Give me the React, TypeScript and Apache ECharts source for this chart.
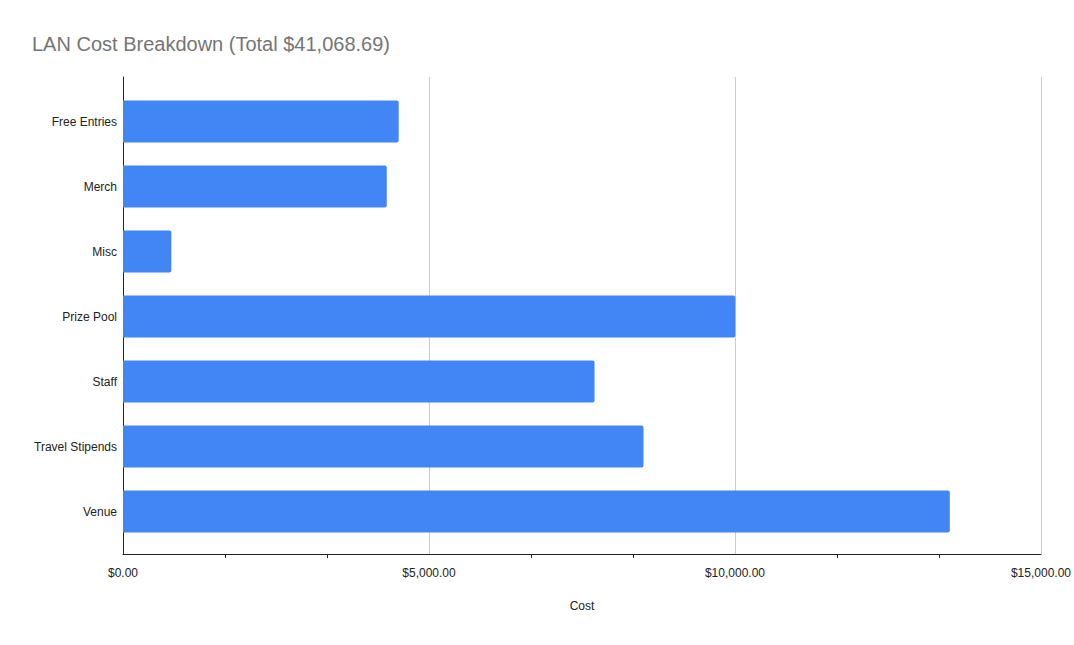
import React, { useEffect, useRef } from "react";
import * as echarts from "echarts";

const categories = ["Free Entries", "Merch", "Misc", "Prize Pool", "Staff", "Travel Stipends", "Venue"];
const costs = [4505, 4310, 790, 10005, 7705, 8505, 13510];
const titleText = "LAN Cost Breakdown (Total $41,068.69)";

const fmt = (v: number) =>
  "$" + v.toLocaleString("en-US", { minimumFractionDigits: 2, maximumFractionDigits: 2 });

export default function App() {
  const ref = useRef<HTMLDivElement>(null);
  useEffect(() => {
    const chart = echarts.init(ref.current!, null, { renderer: "svg" });
    chart.setOption({
      animation: false,
      backgroundColor: "#ffffff",
      title: {
        text: titleText,
        left: 27,
        top: 29,
        textStyle: { fontFamily: "Liberation Sans", fontSize: 20, fontWeight: "normal", color: "#757575" },
      },
      grid: [
        { left: 123, right: 33, top: 89, bottom: 101 },
        { left: 123, right: 33, top: 77, bottom: 91 },
      ],
      xAxis: [
        { gridIndex: 0, type: "value", min: 0, max: 15000, show: false },
        {
          gridIndex: 1,
          type: "value",
          min: 0,
          max: 15000,
          interval: 5000,
          axisLine: { show: true, lineStyle: { color: "#222", width: 1 } },
          axisTick: { show: false },
          minorTick: { show: true, splitNumber: 3, length: 4, lineStyle: { color: "#222" } },
          splitLine: { show: true, lineStyle: { color: "#cccccc" } },
          axisLabel: {
            formatter: (v: number) => fmt(v),
            margin: 13,
            fontFamily: "Liberation Sans",
            fontSize: 12,
            color: "#222",
          },
          name: "Cost",
          nameLocation: "middle",
          nameGap: 46,
          nameTextStyle: { fontFamily: "Liberation Sans", fontSize: 12, color: "#222" },
        },
      ],
      yAxis: [
        {
          gridIndex: 0,
          type: "category",
          data: categories,
          inverse: true,
          axisLine: { show: false },
          axisTick: { show: false },
          axisLabel: { margin: 6, fontFamily: "Liberation Sans", fontSize: 12, color: "#222" },
        },
        {
          gridIndex: 1,
          type: "value",
          min: 0,
          max: 1,
          axisLine: { show: true, lineStyle: { color: "#222", width: 1 } },
          axisTick: { show: false },
          axisLabel: { show: false },
          splitLine: { show: false },
        },
      ],
      series: [
        {
          type: "bar",
          xAxisIndex: 0,
          yAxisIndex: 0,
          data: costs,
          barWidth: 42,
          itemStyle: { color: "#4285f4", borderRadius: [0, 2, 2, 0] },
          z: 5,
        },
      ],
    });
    return () => chart.dispose();
  }, []);
  return <div ref={ref} style={{ width: 1074, height: 645, position: "absolute", left: 0, top: 0 }} />;
}
